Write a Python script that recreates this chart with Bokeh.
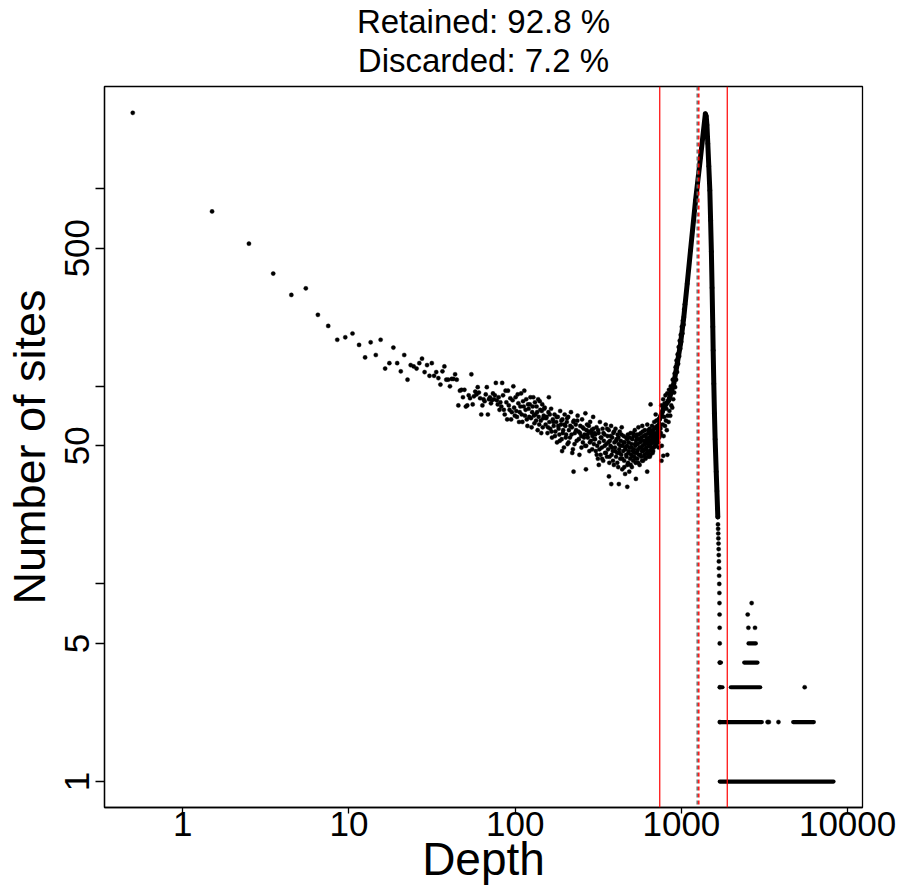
import math
from bokeh.plotting import figure
from bokeh.models import Range1d, FixedTicker, CustomJSTickFormatter, Span, Title
from bokeh.embed import file_html
from bokeh.resources import INLINE

FONT = "Liberation Sans"

# ---------------- text ----------------
title_lines = ["Retained: 92.8 %", "Discarded: 7.2 %"]
x_label = "Depth"
y_label = "Number of sites"

x_ticks = [1, 10, 100, 1000, 10000]
y_ticks = [1, 5, 10, 50, 100, 500, 1000]
y_labelled = [1, 5, 50, 500]

# ---------------- data (depth, number of sites) ----------------
low_pts = [
    (0.5, 2420), (1.5, 767), (2.5, 527), (3.5, 372), (4.5, 290), (5.5, 313),
    (6.5, 230), (7.5, 202), (8.5, 172), (9.5, 177), (10.5, 185), (11.5, 162),
    (12.5, 140), (13.5, 167), (14.5, 144), (15.5, 172), (16.5, 123), (17.5, 131),
    (18.5, 157), (19.5, 131), (20.5, 119), (21.5, 144), (22.5, 108), (23.5, 128),
    (24.5, 126), (25.5, 123), (26.5, 131), (27.5, 138), (28.5, 118), (29.5, 128),
    (30.5, 113), (31.5, 131), (32.5, 113), (33.5, 118), (34.5, 110), (35.5, 102),
    (36.5, 119), (37.5, 126), (38.5, 108), (39.5, 108), (40.5, 100), (41.5, 109),
    (42.5, 109), (43.5, 115), (44.5, 108), (45.5, 80), (46.5, 95), (47.5, 96),
    (48.5, 88), (49.5, 96), (50.5, 79), (51.5, 80), (52.5, 90), (53.5, 87),
    (54.5, 115), (55.5, 81), (56.5, 89), (57.5, 94), (58.5, 91), (59.5, 99),
    (60.5, 93), (61.5, 87), (62.5, 72), (63.5, 80), (64.5, 86), (65.5, 84),
    (66.5, 91), (67.5, 99), (68.5, 72), (69.5, 86), (70.5, 88), (71.5, 82),
    (72.5, 85), (73.5, 92), (74.5, 86), (75.5, 90), (76.5, 104), (77.5, 85),
    (78.5, 81), (79.5, 88), (80.5, 76), (81.5, 83),
]

mid_pts = [
    (82.5, 79), (83.5, 104), (84.5, 90), (85.5, 76), (86.5, 72), (87.5, 95),
    (88.5, 83), (89.5, 68), (90.5, 95), (91.5, 80), (92.5, 76), (93.5, 87),
    (94.5, 68), (95.5, 74), (96.5, 85), (97.5, 100), (98.5, 78), (99.5, 71),
    (100.5, 88), (101.5, 75), (102.5, 70), (103.5, 91), (104.5, 82), (105.5, 66),
    (106.5, 74), (107.5, 79), (108.5, 92), (109.5, 72), (110.5, 66), (111.5, 84),
    (112.5, 79), (113.5, 95), (114.5, 71), (115.5, 76), (116.5, 86), (117.5, 68),
    (118.5, 63), (119.5, 81), (120.5, 77), (121.5, 70), (122.5, 81), (123.5, 88),
    (124.5, 69), (125.5, 62), (126.5, 74), (127.5, 79), (128.5, 88), (129.5, 71),
    (130.5, 65), (131.5, 83), (132.5, 72), (133.5, 67), (134.5, 79), (135.5, 74),
    (136.5, 60), (137.5, 86), (138.5, 70), (139.5, 64), (140.5, 84), (141.5, 76),
    (142.5, 67), (143.5, 58), (144.5, 75), (145.5, 81), (146.5, 62), (147.5, 69),
    (148.5, 71), (149.5, 77), (150.5, 78),
    (152.5, 64), (154.5, 70), (156.5, 58), (158.5, 74), (160.5, 66), (162.5, 61),
    (164.5, 77), (166.5, 55), (168.5, 68), (170.5, 63), (172.5, 72), (174.5, 59),
    (176.5, 66), (178.5, 52), (180.5, 70), (182.5, 61), (184.5, 57), (186.5, 75),
    (188.5, 64), (190.5, 54), (192.5, 68), (194.5, 60), (196.5, 49), (198.5, 72),
    (200.5, 63), (202.5, 57), (204.5, 66), (206.5, 51), (208.5, 70), (210.5, 60),
    (213.5, 55), (216.5, 74), (219.5, 62), (222.5, 48), (225.5, 67), (228.5, 58),
    (231.5, 64), (234.5, 53), (237.5, 71), (240.5, 59), (243.5, 45), (246.5, 63),
    (249.5, 56), (252.5, 68), (255.5, 52), (258.5, 61), (261.5, 57), (264.5, 73),
    (267.5, 50), (270.5, 64), (273.5, 55), (276.5, 59), (279.5, 47), (282.5, 66),
    (285.5, 53), (288.5, 60), (291.5, 56), (294.5, 70), (297.5, 51), (300.5, 58),
    (153.5, 69), (157.5, 62), (161.5, 72), (165.5, 59), (169.5, 66), (173.5, 56),
    (177.5, 70), (181.5, 63), (185.5, 53), (189.5, 67), (193.5, 58), (197.5, 64),
    (201.5, 55), (205.5, 69), (209.5, 52), (214.5, 63), (218.5, 57), (223.5, 66),
    (227.5, 51), (232.5, 60), (236.5, 67), (241.5, 54), (245.5, 58), (250.5, 49),
    (254.5, 62), (259.5, 55), (263.5, 50), (268.5, 60), (272.5, 57), (277.5, 63),
    (281.5, 52), (286.5, 58), (290.5, 48), (295.5, 61), (299.5, 54),
    (159.5, 88), (191.5, 47), (220.5, 46), (224.5, 37), (266.5, 38),
]

dense_pts = [
    (302.5, 54), (305.5, 47), (308.5, 62), (311.5, 50), (314.5, 43), (317.5, 58),
    (320.5, 52), (323.5, 66), (326.5, 45), (329.5, 55), (332.5, 49), (335.5, 61),
    (338.5, 42), (341.5, 53), (344.5, 57), (347.5, 46), (350.5, 64), (353.5, 51),
    (356.5, 44), (359.5, 56), (362.5, 48), (365.5, 60), (368.5, 41), (371.5, 53),
    (374.5, 50), (377.5, 63), (380.5, 45), (383.5, 55), (386.5, 47), (389.5, 58),
    (392.5, 40), (395.5, 52), (398.5, 49), (401.5, 61), (404.5, 44), (407.5, 54),
    (410.5, 46), (413.5, 57), (416.5, 39), (419.5, 51), (422.5, 48), (425.5, 59),
    (428.5, 43), (431.5, 53), (434.5, 45), (437.5, 62), (440.5, 38), (443.5, 50),
    (446.5, 47), (449.5, 56), (452.5, 42), (455.5, 52), (458.5, 36), (461.5, 48),
    (464.5, 55), (467.5, 44), (470.5, 50), (473.5, 40), (476.5, 57), (479.5, 46),
    (482.5, 52), (485.5, 37), (488.5, 49), (491.5, 43), (494.5, 58), (497.5, 45),
    (500.5, 51), (503.5, 39), (506.5, 54), (509.5, 47), (512.5, 42), (515.5, 56),
    (518.5, 48), (521.5, 44), (524.5, 60), (527.5, 50), (530.5, 41), (533.5, 53),
    (536.5, 46), (539.5, 57), (542.5, 43), (545.5, 51), (548.5, 48), (551.5, 62),
    (554.5, 45), (557.5, 54), (560.5, 40), (563.5, 52), (566.5, 49), (569.5, 58),
    (572.5, 44), (575.5, 55), (578.5, 47), (581.5, 63), (584.5, 50), (587.5, 42),
    (590.5, 56), (593.5, 48), (596.5, 53), (599.5, 45), (602.5, 60), (605.5, 51),
    (608.5, 43), (611.5, 57), (614.5, 49), (617.5, 54), (620.5, 46), (623.5, 64),
    (626.5, 52), (629.5, 44), (632.5, 58), (635.5, 50), (638.5, 55), (641.5, 47),
    (644.5, 61), (647.5, 53), (650.5, 45), (653.5, 59), (656.5, 51), (659.5, 56),
    (662.5, 48), (665.5, 63), (668.5, 54), (671.5, 46), (674.5, 60), (677.5, 52),
    (680.5, 57), (683.5, 49), (686.5, 66), (689.5, 55), (692.5, 50), (695.5, 62),
    (698.5, 54), (701.5, 58), (704.5, 51), (707.5, 67), (710.5, 57), (713.5, 53),
    (716.5, 63), (719.5, 56), (722.5, 60), (725.5, 52), (728.5, 68), (731.5, 59),
    (734.5, 55), (737.5, 64), (740.5, 58), (743.5, 62), (746.5, 57), (749.5, 70),
    (303.5, 57), (309.5, 45), (315.5, 60), (321.5, 48), (327.5, 55), (333.5, 43),
    (339.5, 58), (345.5, 50), (351.5, 46), (357.5, 61), (363.5, 52), (369.5, 44),
    (375.5, 56), (381.5, 49), (387.5, 42), (393.5, 59), (399.5, 47), (405.5, 53),
    (411.5, 41), (417.5, 55), (423.5, 46), (429.5, 50), (435.5, 57), (441.5, 43),
    (447.5, 52), (453.5, 39), (459.5, 49), (465.5, 45), (471.5, 54), (477.5, 41),
    (483.5, 47), (489.5, 55), (495.5, 40), (501.5, 49), (507.5, 44), (513.5, 58),
    (519.5, 46), (525.5, 51), (531.5, 43), (537.5, 55), (543.5, 47), (549.5, 41),
    (555.5, 57), (561.5, 49), (567.5, 45), (573.5, 53), (579.5, 42), (585.5, 59),
    (591.5, 47), (597.5, 51), (603.5, 44), (609.5, 56), (615.5, 48), (621.5, 53),
    (627.5, 46), (633.5, 60), (639.5, 50), (645.5, 44), (651.5, 57), (657.5, 49),
    (663.5, 53), (669.5, 59), (675.5, 47), (681.5, 55), (687.5, 61), (693.5, 52),
    (699.5, 57), (705.5, 50), (711.5, 62), (717.5, 54), (723.5, 58), (729.5, 49),
    (735.5, 65), (741.5, 56), (747.5, 61),
    (318.5, 40), (366.5, 35), (378.5, 32), (420.5, 32), (472.5, 31), (532.5, 34),
    (622.5, 37), (652.5, 81), (700.5, 72),
]

band_pts = [
    (752, 58), (757, 80), (762, 50), (767, 74), (772, 64), (777, 86), (782, 56),
    (787, 70), (792, 82), (797, 63), (802, 90), (807, 67), (812, 77), (817, 60),
    (822, 92), (827, 71), (832, 84), (837, 66), (842, 96), (847, 75), (852, 88),
    (857, 71), (863, 100), (869, 80), (875, 94), (881, 78), (887, 108), (893, 86),
    (899, 100), (905, 93), (911, 116), (917, 99), (923, 125), (929, 108), (935, 135),
    (942, 118), (949, 145), (956, 130), (963, 158), (970, 142), (977, 170), (984, 155),
    (991, 182), (998, 168), (1006, 200), (1014, 185), (1022, 215), (1030, 205),
    (1040, 245), (1050, 260), (759, 42), (778, 44.5), (823, 45),
]

peak_depth = [738, 784, 840, 900, 944, 988, 1034, 1084, 1135, 1217, 1304, 1394,
              1410, 1425, 1442, 1462, 1483, 1499, 1515, 1530, 1545, 1553, 1567,
              1581, 1596, 1604, 1620, 1636, 1650, 1656]
peak_count = [68, 78, 85, 103, 130, 164, 224, 330, 488, 873, 1445, 2395,
              2330, 2100, 1690, 1300, 980, 690, 480, 315, 200, 152, 103,
              73, 54, 47.5, 37, 29.5, 24, 21.8]

column_pts = [
    (1660, 20), (1663, 19), (1666, 18), (1669, 17), (1672, 16), (1675, 15),
    (1678, 14), (1681, 13), (1684, 12), (1687, 11), (1690, 10), (1693, 9),
    (1695, 8), (1697, 7), (1699, 6), (1701, 5), (1702, 4), (1703, 3), (1704, 2),
]

# runs of consecutive depths sharing one count: (count, first depth, last depth)
tail_runs = [
    (1, 1702, 8228), (2, 1702, 3047), (2, 4706, 6266), (3, 1702, 1767),
    (3, 1983, 2980), (4, 1702, 1730), (4, 2388, 2870), (5, 2535, 2803),
]
tail_dots = [
    (3300, 2), (3360, 2), (3838, 2), (5518, 3), (2530, 6), (2773, 6),
    (2506, 7), (2647, 8),
]

lower_cut = 741
upper_cut = 1888
mean_depth = 1245
median_depth = 1273

# ---------------- figure ----------------
p = figure(
    width=903, height=890,
    x_axis_type="log", y_axis_type="log",
    x_range=Range1d(0.338, 12295), y_range=Range1d(0.739, 3289),
    output_backend="svg", toolbar_location=None, title_location=None,
    min_border_left=104, min_border_right=41, min_border_top=86, min_border_bottom=83,
)
p.xgrid.visible = False
p.ygrid.visible = False
p.background_fill_color = "white"
p.border_fill_color = "white"
p.outline_line_color = "black"
p.outline_line_width = 1.3
p.outline_line_alpha = 1.0

for ax in (p.xaxis, p.yaxis):
    ax.axis_line_color = "black"
    ax.axis_line_width = 1.3
    ax.major_tick_line_color = "black"
    ax.major_tick_line_width = 1.3
    ax.major_tick_in = 0
    ax.minor_tick_line_color = None
    ax.major_label_text_font = FONT
    ax.major_label_text_font_size = "35px"
    ax.major_label_text_color = "black"
    ax.axis_label_text_font = FONT
    ax.axis_label_text_font_style = "normal"
    ax.axis_label_text_color = "black"

p.xaxis.ticker = FixedTicker(ticks=x_ticks, minor_ticks=[])
p.xaxis.formatter = CustomJSTickFormatter(code="return tick.toString();")
p.xaxis.major_tick_out = 6
p.xaxis.major_label_standoff = -2
p.xaxis.axis_label = x_label
p.xaxis.axis_label_text_font_size = "46px"
p.xaxis.axis_label_standoff = -6

p.yaxis.ticker = FixedTicker(ticks=y_ticks, minor_ticks=[])
p.yaxis.formatter = CustomJSTickFormatter(
    args=dict(show=y_labelled),
    code="return show.includes(tick) ? tick.toString() : '';")
p.yaxis.major_tick_out = 9
p.yaxis.major_label_orientation = "vertical"
p.yaxis.major_label_standoff = 6
p.yaxis.axis_label = y_label
p.yaxis.axis_label_text_font_size = "45px"
p.yaxis.axis_label_standoff = 8

# two-line title: first added sits nearest the frame
p.add_layout(Title(text=title_lines[1], align="center", text_font=FONT,
                   text_font_size="33px", text_font_style="normal",
                   text_color="black", standoff=15), "above")
p.add_layout(Title(text=title_lines[0], align="center", text_font=FONT,
                   text_font_size="33px", text_font_style="normal",
                   text_color="black", standoff=-14), "above")


def xs(pts):
    return [a for a, b in pts]


def ys(pts):
    return [b for a, b in pts]


dot = dict(size=4.2, color="black", line_width=0.4)
for pts in (low_pts, mid_pts, dense_pts, band_pts, column_pts):
    p.scatter(xs(pts), ys(pts), **dot)

p.line(peak_depth, peak_count, line_width=5, color="black",
       line_join="round", line_cap="round")
p.scatter(peak_depth, peak_count, **dot)

p.segment(x0=[r[1] for r in tail_runs], y0=[r[0] for r in tail_runs],
          x1=[r[2] for r in tail_runs], y1=[r[0] for r in tail_runs],
          line_width=4.2, line_cap="round", color="black")
p.scatter(xs(tail_dots), ys(tail_dots), **dot)

p.add_layout(Span(location=lower_cut, dimension="height", line_color="red", line_width=1.2))
p.add_layout(Span(location=upper_cut, dimension="height", line_color="red", line_width=1.2))
p.add_layout(Span(location=mean_depth, dimension="height", line_color="#666666",
                  line_width=1.4, line_dash="4 3"))
p.add_layout(Span(location=median_depth, dimension="height", line_color="red",
                  line_width=1.4, line_dash="4 3"))

open("out.html", "w").write(file_html(p, INLINE))
